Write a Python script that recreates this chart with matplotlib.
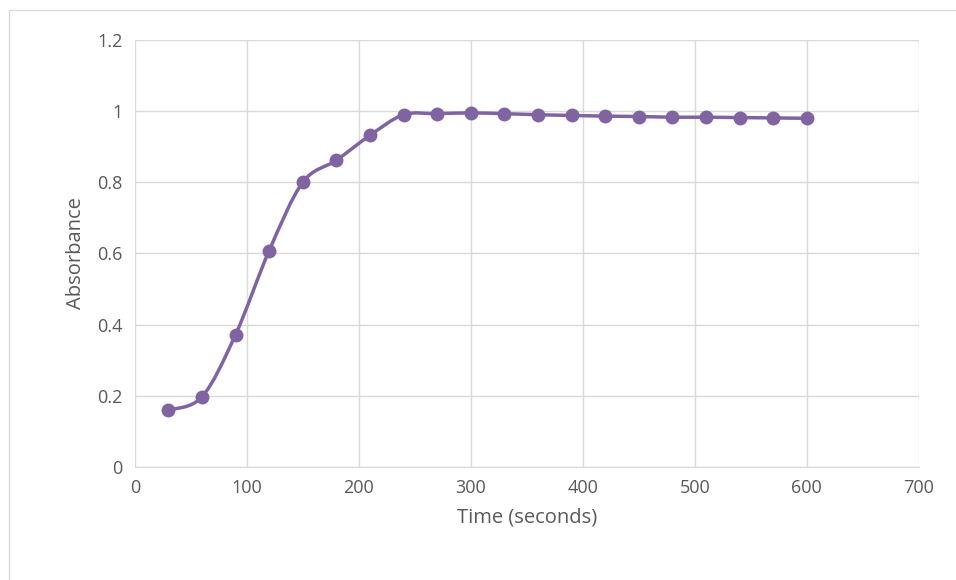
import matplotlib
matplotlib.use("Agg")
import matplotlib.pyplot as plt
import numpy as np
from matplotlib.path import Path
from matplotlib.patches import PathPatch

time_s = [30, 60, 90, 120, 150, 180, 210, 240, 270, 300, 330, 360, 390, 420, 450, 480, 510, 540, 570, 600]
absorbance = [0.16, 0.197, 0.372, 0.608, 0.80, 0.862, 0.932, 0.99, 0.993, 0.995, 0.993, 0.99,
              0.988, 0.986, 0.985, 0.983, 0.983, 0.982, 0.981, 0.98]

plt.rcParams['font.family'] = ['Open Sans', 'DejaVu Sans']
color = '#8064A2'

fig = plt.figure(figsize=(9.56, 5.8), dpi=100)
ax = fig.add_axes([0.141, 0.195, 0.820, 0.736])

# Excel-style smoothed line: cubic Bezier segments with Catmull-Rom control points
x = np.array(time_s, float)
y = np.array(absorbance, float)
verts = [(x[0], y[0])]
codes = [Path.MOVETO]
n = len(x)
for i in range(n - 1):
    p0 = (x[max(i - 1, 0)], y[max(i - 1, 0)])
    p1 = (x[i], y[i])
    p2 = (x[i + 1], y[i + 1])
    p3 = (x[min(i + 2, n - 1)], y[min(i + 2, n - 1)])
    c1 = (p1[0] + (p2[0] - p0[0]) / 6, p1[1] + (p2[1] - p0[1]) / 6)
    c2 = (p2[0] - (p3[0] - p1[0]) / 6, p2[1] - (p3[1] - p1[1]) / 6)
    verts += [c1, c2, p2]
    codes += [Path.CURVE4] * 3
ax.add_patch(PathPatch(Path(verts, codes), fill=False, edgecolor=color, lw=2.5, zorder=3))
ax.plot(time_s, absorbance, 'o', color=color, ms=9, zorder=4)

ax.set_xlim(0, 700)
ax.set_ylim(0, 1.2)
ax.set_xticks(range(0, 701, 100))
ax.set_yticks([0, 0.2, 0.4, 0.6, 0.8, 1, 1.2])
ax.set_yticklabels(['0', '0.2', '0.4', '0.6', '0.8', '1', '1.2'])
ax.grid(True, color='#D9D9D9', lw=1)
ax.set_axisbelow(True)
for s in ['top', 'right']:
    ax.spines[s].set_visible(False)
ax.spines['left'].set_visible(False)
ax.spines['bottom'].set_color('#D9D9D9')
ax.tick_params(length=0, labelsize=13, colors='#595959', pad=9)
ax.set_xlabel('Time (seconds)', fontsize=14.5, color='#595959', labelpad=7)
ax.set_ylabel('Absorbance', fontsize=14.5, color='#595959', labelpad=8)

fig.patches.append(plt.Rectangle((0.009, -0.01), 1.0, 0.993, transform=fig.transFigure,
                                 fill=False, edgecolor='#D9D9D9', lw=1))
fig.savefig('out.png', dpi=100)
